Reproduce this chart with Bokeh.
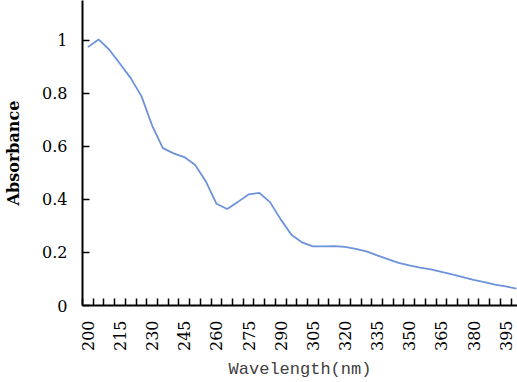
import math
from bokeh.plotting import figure
from bokeh.models import FixedTicker, Range1d
from bokeh.embed import file_html
from bokeh.resources import INLINE

wavelength = list(range(200, 401, 5))
absorbance = [0.975, 1.004, 0.965, 0.912, 0.858, 0.790, 0.679, 0.594, 0.574, 0.560,
              0.531, 0.469, 0.384, 0.364, 0.391, 0.419, 0.425, 0.390, 0.325, 0.267,
              0.238, 0.223, 0.223, 0.224, 0.221, 0.214, 0.204, 0.189, 0.175, 0.161,
              0.151, 0.143, 0.136, 0.127, 0.117, 0.107, 0.097, 0.088, 0.079, 0.072,
              0.064]
x_tick_values = list(range(200, 400, 15))
y_tick_values = [0, 0.2, 0.4, 0.6, 0.8, 1]
y_tick_labels = ["0", "0.2", "0.4", "0.6", "0.8", "1"]

p = figure(width=517, height=382, output_backend="svg", toolbar_location=None,
           x_range=Range1d(197.5, 400.5), y_range=Range1d(0, 1.1509),
           min_border_left=82, min_border_right=0, min_border_top=0, min_border_bottom=77)
p.outline_line_color = None
p.xgrid.visible = False
p.ygrid.visible = False
p.background_fill_color = "white"

p.line(wavelength, absorbance, line_color="#6C93DA", line_width=1.8)

bounds = [w - 2.5 for w in wavelength]
p.xaxis.ticker = FixedTicker(ticks=x_tick_values, minor_ticks=bounds)
p.xaxis.major_tick_in = 0
p.xaxis.major_tick_out = 0
p.xaxis.minor_tick_in = 7
p.xaxis.minor_tick_out = 0
p.xaxis.minor_tick_line_color = "black"
p.xaxis.minor_tick_line_width = 1.5
p.xaxis.major_label_orientation = math.pi / 2
p.xaxis.major_label_standoff = 15
p.xaxis.major_label_text_font = "DejaVu Serif"
p.xaxis.major_label_text_font_size = "16px"
p.xaxis.major_label_text_color = "black"
p.xaxis.axis_label = "Wavelength(nm)"
p.xaxis.axis_label_text_font = "Liberation Mono"
p.xaxis.axis_label_text_font_style = "normal"
p.xaxis.axis_label_text_font_size = "17px"
p.xaxis.axis_label_text_color = "#404040"
p.xaxis.axis_label_standoff = 6
p.xaxis.axis_line_width = 2
p.xaxis.axis_line_color = "black"

p.yaxis.ticker = FixedTicker(ticks=y_tick_values)
p.yaxis.major_label_overrides = {v: l for v, l in zip(y_tick_values, y_tick_labels)}
p.yaxis.major_tick_in = 7
p.yaxis.major_tick_out = 0
p.yaxis.major_tick_line_width = 1.5
p.yaxis.minor_tick_line_color = None
p.yaxis.major_label_standoff = 15
p.yaxis.major_label_text_font = "DejaVu Serif"
p.yaxis.major_label_text_font_size = "16px"
p.yaxis.major_label_text_color = "black"
p.yaxis.axis_label = "Absorbance"
p.yaxis.axis_label_text_font = "DejaVu Serif"
p.yaxis.axis_label_text_font_style = "bold"
p.yaxis.axis_label_text_font_size = "16px"
p.yaxis.axis_label_text_color = "black"
p.yaxis.axis_label_standoff = 16
p.yaxis.axis_line_width = 2
p.yaxis.axis_line_color = "black"

open("out.html", "w").write(file_html(p, INLINE))
